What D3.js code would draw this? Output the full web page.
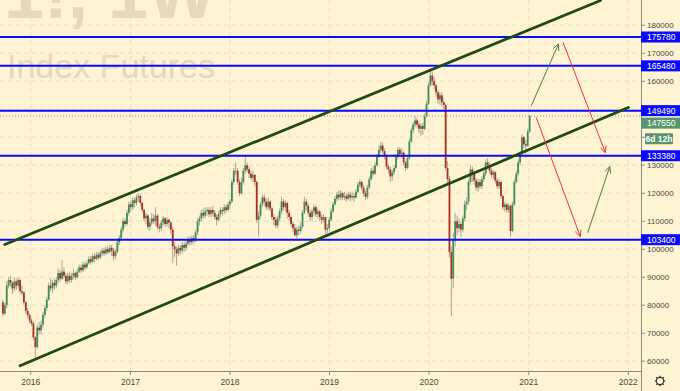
<!DOCTYPE html>
<html>
<head>
<meta charset="utf-8">
<script src="https://cdn.jsdelivr.net/npm/d3@7"></script>
<style>
  body { margin: 0; background: #fef3d2; }
  text { font-family: "Liberation Sans", Arial, sans-serif; }
</style>
</head>
<body>
<div id="chart"></div>
<script>
// weekly candles, values in thousands, last week = 2021-01-04
const lastWeek = "2021-01-04";
const firstOpen = 81;
const closes = [77,80,87,89,88,86,88.5,87,89,85,84.5,81,78,76.5,74.5,73.5,68.5,65,72,71,
  73,76.5,79,82,87,86,88,87,89,91.5,89.5,92,90.5,88.5,90.5,89,90.5,91.5,90,92,
  93.5,92.5,94.5,93.5,95,96.5,95.5,97.5,96.5,98,97,98.5,99.5,98.5,100,99,100.5,99.5,97.5,99,
  102.5,104,107,110,109,113,116,115,117.5,116.5,118.5,119,116.5,114,111,112,108,109.5,111,110,
  112,108,107.5,109.5,111,109,110.5,109.5,107,101,100,98.5,100.5,99.5,101.5,100.5,102,103.5,102.5,104,
  103,106,110,111,113,112,113.5,114,112.5,114,113,111.5,110.5,112.5,114,113.5,115,114,116,117,
  124,128,128,124,120,124,128,130,128.5,127,125.5,126.5,124,110.5,112,116,118.5,117,115,117,
  114.5,111.5,110.5,108.5,111,113.5,117,115,116.5,113,111.5,109,107.5,105,107,106.5,108,113,117,115.5,
  113,111.5,113.5,115,112.5,113.5,111.5,110.5,111.5,107,107.5,110.5,113.5,116,118,119.5,118.5,120,118.5,119,
  118,119.5,118.5,119,118.5,120.5,123,124,122,120,118.7,122,125,128,127,130,133,135.5,137,135,
  133.5,129.5,128.5,126,127.5,129,133,135.5,134,134.5,131,129,132.5,138.5,142.5,144.5,146,144.5,143,144,
  143,147.5,152,158.5,162,160,158.5,156,153.5,155,152.5,151.5,129,125,99,89.5,103,110,107.5,109,
  107,111,116,117,124,128.5,127,124.5,122,124,122.5,125,127,131,130,128,126.5,127.5,124.5,122.5,
  124,119,115,116,114,115.5,106.5,116,124,127,131,134,140,137.5,137,142,147.55];
const highs = [82,81,88.5,90,90.5,88.5,90,89.5,90,89.5,87,85,81.5,79,77,75.5,74,69,73,74,
  74.5,77.5,80,83,88,89.5,89,89.5,90,93,92.5,96,93.5,91.5,91.5,92,91.5,93,92,93,
  94.5,94.5,95.5,95.5,96,97.5,97.5,98.5,98.5,99,99,99.5,100.5,100.5,101,101,101.5,101.5,100.5,100,
  103.5,105,108,111,111,114,117,117,118.5,118.5,119.5,120,119.5,117,114.5,113,112.5,111,113,112.5,
  115,112.5,109,110.5,112,111.5,111.5,111,110,108,102.5,101,101.5,101.5,102.5,102.5,103,104.5,104.5,105,
  105,107,111,112,114,114.5,115,115,115,115,115.5,114,112.5,113.5,115,115,116,116,117,118,
  125,129,131,129,125,125.5,129,133.5,131,129.5,128,128,127,124.5,113.5,117,119.5,119.5,118,118.5,
  117.5,115,112.5,111.5,112,114.5,118.7,118,117.5,117,114,112,110,109,108,108.5,109.5,114,118.7,118,
  116.5,114,114.5,116,115.5,114.5,114,112.5,112.5,111.5,109,111.5,114.5,117,119,120.5,121,121,120.5,120.5,
  120,120.5,120.5,120.5,120,121.5,124,125,124.5,123,121,123,126,129,129.5,131,134,137,138.5,138,
  136,134,130.5,129.5,128.5,130,134,136.5,136.5,136,135,131.5,133.5,139.5,143.5,145.5,147.5,147,145.5,145,
  145,148.5,153,159.5,164.5,163.5,161.5,159,157,156,156,154,152,131.5,126,101,106,113,112,111,
  110,112,117.5,118.5,125,130,129.5,128,125.5,125,125,126,128,132,132.5,131,129,128.5,128,125.5,
  125,124.5,119.5,117,116.5,116.5,116,117,125,128,132,135,141,140.5,139,143,148];
const lows = [76,76.5,79,86,86.5,84,85,85.5,86,84,83.5,80,77,75.5,73.5,72.5,67.5,61,64.5,69.5,
  69.5,72,75.5,78,81.5,85,84.5,85.5,86,88,88.5,89,89.5,87.5,87.5,88,88,89.5,89,89.5,
  91.5,91.5,92,92.5,93,94.5,94.5,95,95.5,96,96,96.5,97.5,97.5,98,98,98.5,97.5,96,96.5,
  98.5,101.5,103.5,106,108,108.5,112,113.5,114,115,115.5,117,115.5,113,110,109,107,106.5,108.5,109,
  108.5,107,106,106.5,108.5,108,108,107.5,105.5,95,97,94,97.5,98,98.5,99,99.5,101,101.5,101.5,
  102,102.5,105,108.5,110,111,111,112,111.5,111.5,112,110.5,108.5,110,111.5,112,112.5,113,113.5,114.5,
  116.5,123,126.5,123,119,119.5,123,127,127.5,125.5,124.5,124,122.5,109.5,104.5,111,115,115.5,114,114,
  113.5,110.5,108.5,107.5,107.5,110,112.5,114,113.5,111,110,108,106,104.5,104,105,105.5,107.5,112.5,114,
  112,110,110.5,112,111.5,111,110,109,109.5,105.5,105,106.5,110,113,115.5,117,117.5,117.5,117.5,117.5,
  117,117.5,117,117.5,117,118,120,122,121,119,117.5,118,121.5,124.5,126,126.5,129.5,132.5,134.5,134,
  132,128.5,127,124,124.5,126.5,128.5,132,133,132.5,130,128,128.5,132,138,141.5,143.5,143.5,141.5,140.5,
  141,142.5,147,151.5,158,158.5,157,154.5,152,151.5,151,150,128,123,97,76,86,101,105,106,
  104.5,106,110,114,116,123,124,123,121,120.5,121.5,121.5,124,126,128.5,127,125.5,125,123.5,121.5,
  121.5,118,114,113.5,113,113,104.5,106,115.5,123.5,126,130,133,136,132.5,136.5,141.5];

const levels = [175780, 165480, 149490, 133380, 103400];
const lastPrice = 147550;
const countdown = "6d 12h";
const yTicks = [60000, 70000, 80000, 90000, 100000, 110000, 120000, 130000, 140000, 150000, 160000, 170000, 180000, 190000];
const xTicks = ["2016-01-01", "2017-01-01", "2018-01-01", "2019-01-01", "2020-01-01", "2021-01-01", "2022-01-01"];

// trend channel [date, value]
const upperChannel = [["2015-09-28", 101700], ["2021-09-21", 188800]];
const lowerChannel = [["2015-11-23", 58400], ["2022-01-01", 150600]];

// forecast arrows [from, to]
const greenArrows = [
  [["2021-01-10", 151200], ["2021-04-20", 173300]],
  [["2021-08-05", 105900], ["2021-10-25", 129500]]
];
const redArrows = [
  [["2021-05-07", 173800], ["2021-10-09", 134500]],
  [["2021-01-28", 147100], ["2021-07-09", 104500]]
];

const width = 680, height = 391;
const plotW = 641, plotH = 371;
const parse = d3.utcParse("%Y-%m-%d");

const svg = d3.select("#chart").append("svg")
  .attr("width", width).attr("height", height);

svg.append("rect").attr("width", width).attr("height", height).attr("fill", "#fef3d2");

const xScale = d3.scaleUtc()
  .domain([parse("2016-01-01"), parse("2022-01-01")])
  .range([30.7, 628.3]);
const yScale = d3.scaleLinear().domain([56500, 189000]).range([plotH, 0]);

svg.append("clipPath").attr("id", "plot")
  .append("rect").attr("width", plotW).attr("height", plotH);

const plot = svg.append("g").attr("clip-path", "url(#plot)");

// grid
plot.selectAll(".vgrid").data(xTicks).enter().append("line")
  .attr("x1", d => xScale(parse(d))).attr("x2", d => xScale(parse(d)))
  .attr("y1", 0).attr("y2", plotH)
  .attr("stroke", "#ebe0c4").attr("stroke-dasharray", "5,3");
plot.selectAll(".hgrid").data(yTicks).enter().append("line")
  .attr("x1", 0).attr("x2", plotW)
  .attr("y1", d => yScale(d)).attr("y2", d => yScale(d))
  .attr("stroke", "#ebe0c4").attr("stroke-dasharray", "5,3");

// watermark
plot.append("text").attr("x", 4).attr("y", 18)
  .style("font-size", "72px").style("font-weight", "bold")
  .attr("fill", "#e4d9ba").text("1!, 1W");
plot.append("text").attr("x", 7).attr("y", 78)
  .style("font-size", "34px")
  .attr("fill", "#e4d9ba").text("Index Futures");

// candles
const last = parse(lastWeek);
const n = closes.length;
const candles = closes.map((c, i) => ({
  date: d3.utcWeek.offset(last, i - (n - 1)),
  open: (i === 0 ? firstOpen : closes[i - 1]) * 1000,
  high: highs[i] * 1000,
  low: lows[i] * 1000,
  close: c * 1000
}));

const cg = plot.append("g");
cg.selectAll(".wick").data(candles).enter().append("line")
  .attr("x1", d => xScale(d.date)).attr("x2", d => xScale(d.date))
  .attr("y1", d => yScale(d.high)).attr("y2", d => yScale(d.low))
  .attr("stroke", "#a6a69c").attr("stroke-width", 1);
cg.selectAll(".body").data(candles).enter().append("rect")
  .attr("x", d => xScale(d.date) - 0.9)
  .attr("width", 1.8)
  .attr("y", d => yScale(Math.max(d.open, d.close)))
  .attr("height", d => Math.max(0.8, Math.abs(yScale(d.open) - yScale(d.close))))
  .attr("fill", d => d.close >= d.open ? "#3f8c5c" : "#a9301f");

// horizontal levels
plot.selectAll(".level").data(levels).enter().append("line")
  .attr("x1", 0).attr("x2", plotW)
  .attr("y1", d => yScale(d)).attr("y2", d => yScale(d))
  .attr("stroke", "#0a0aff").attr("stroke-width", 2);

// last price dotted line
plot.append("line")
  .attr("x1", 0).attr("x2", plotW)
  .attr("y1", yScale(lastPrice)).attr("y2", yScale(lastPrice))
  .attr("stroke", "#8f9c74").attr("stroke-dasharray", "1,2");

// channel
[upperChannel, lowerChannel].forEach(ch => {
  plot.append("line")
    .attr("x1", xScale(parse(ch[0][0]))).attr("y1", yScale(ch[0][1]))
    .attr("x2", xScale(parse(ch[1][0]))).attr("y2", yScale(ch[1][1]))
    .attr("stroke", "#1f4a10").attr("stroke-width", 2.8).attr("stroke-linecap", "round");
});

// arrows
function drawArrow(a, color) {
  const x1 = xScale(parse(a[0][0])), y1 = yScale(a[0][1]);
  const x2 = xScale(parse(a[1][0])), y2 = yScale(a[1][1]);
  const ang = Math.atan2(y2 - y1, x2 - x1);
  const len = 7, spread = 0.45;
  const g = plot.append("g").attr("stroke", color).attr("stroke-width", 1).attr("fill", "none");
  g.append("line").attr("x1", x1).attr("y1", y1).attr("x2", x2).attr("y2", y2);
  g.append("path").attr("d",
    `M${x2 - len * Math.cos(ang - spread)},${y2 - len * Math.sin(ang - spread)}L${x2},${y2}` +
    `L${x2 - len * Math.cos(ang + spread)},${y2 - len * Math.sin(ang + spread)}`);
}
greenArrows.forEach(a => drawArrow(a, "#4f7d45"));
redArrows.forEach(a => drawArrow(a, "#e8393c"));

// axes lines
svg.append("line").attr("x1", 0).attr("x2", plotW).attr("y1", plotH + 0.5).attr("y2", plotH + 0.5)
  .attr("stroke", "#8a8a80");
svg.append("line").attr("x1", plotW + 0.5).attr("x2", plotW + 0.5).attr("y1", 0).attr("y2", height)
  .attr("stroke", "#8a8a80");

// x ticks
const xa = svg.append("g");
xa.selectAll("line").data(xTicks).enter().append("line")
  .attr("x1", d => xScale(parse(d))).attr("x2", d => xScale(parse(d)))
  .attr("y1", plotH + 1).attr("y2", plotH + 4).attr("stroke", "#8a8a80");
xa.selectAll("text").data(xTicks).enter().append("text")
  .attr("x", d => xScale(parse(d))).attr("y", 385)
  .attr("text-anchor", "middle").style("font-size", "8.5px").attr("fill", "#4a4a4a")
  .text(d => d.slice(0, 4));

// label box positions on the price scale
const boxH = 11;
let py = yScale(lastPrice) - boxH / 2;
levels.forEach(v => {
  const ly = yScale(v) - boxH / 2;
  if (Math.abs(ly - py) < boxH) py = ly + boxH + 1.5;
});
const cy = py + boxH + 4.5;
const boxCenters = levels.map(v => yScale(v)).concat([py + boxH / 2, cy + boxH / 2]);

// y ticks (labels hidden behind a box are skipped, as on the price scale)
const ya = svg.append("g");
ya.selectAll("line").data(yTicks).enter().append("line")
  .attr("x1", plotW + 1).attr("x2", plotW + 4)
  .attr("y1", d => yScale(d)).attr("y2", d => yScale(d)).attr("stroke", "#8a8a80");
ya.selectAll("text").data(yTicks.filter(t => boxCenters.every(c => Math.abs(yScale(t) - c) > 8)))
  .enter().append("text")
  .attr("x", 647).attr("y", d => yScale(d)).attr("dy", "0.35em")
  .style("font-size", "8px").attr("fill", "#4a4a4a")
  .text(d => d);

// level labels
levels.forEach(v => {
  const y = yScale(v);
  svg.append("rect").attr("x", plotW).attr("y", y - boxH / 2).attr("width", width - plotW).attr("height", boxH)
    .attr("fill", "#0a0aff");
  svg.append("text").attr("x", 647).attr("y", y).attr("dy", "0.35em")
    .style("font-size", "8.5px").attr("fill", "#fff").text(v);
});

// last price label and bar countdown
svg.append("rect").attr("x", plotW).attr("y", py).attr("width", width - plotW).attr("height", boxH)
  .attr("fill", "#56966e");
svg.append("text").attr("x", 647).attr("y", py + boxH / 2).attr("dy", "0.35em")
  .style("font-size", "8.5px").attr("fill", "#fff").text(lastPrice);
svg.append("rect").attr("x", plotW + 4).attr("y", cy).attr("width", 28).attr("height", boxH)
  .attr("rx", 1).attr("fill", "#56966e");
svg.append("text").attr("x", plotW + 18).attr("y", cy + boxH / 2).attr("dy", "0.35em")
  .attr("text-anchor", "middle").style("font-size", "8.5px").style("font-weight", "bold")
  .attr("fill", "#fff").text(countdown);

// settings gear
const gear = svg.append("g").attr("transform", "translate(660,381)")
  .attr("stroke", "#333").attr("fill", "none");
gear.append("circle").attr("r", 3.6).attr("stroke-width", 1.1);
d3.range(8).forEach(k => {
  const a = k * Math.PI / 4;
  gear.append("line")
    .attr("x1", 3.6 * Math.cos(a)).attr("y1", 3.6 * Math.sin(a))
    .attr("x2", 5.2 * Math.cos(a)).attr("y2", 5.2 * Math.sin(a))
    .attr("stroke-width", 1.3);
});
</script>
</body>
</html>
